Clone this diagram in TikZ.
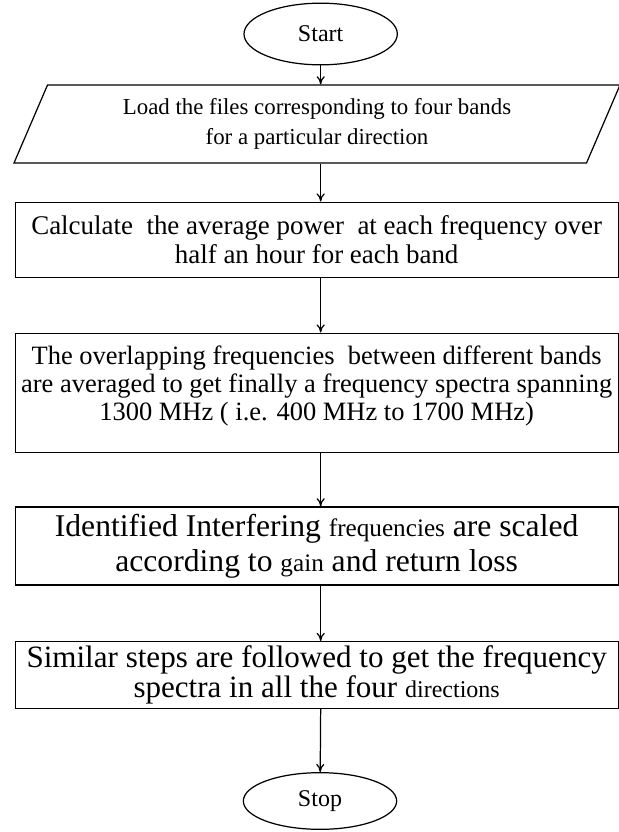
\documentclass[tikz,border=0pt]{standalone}
\usepackage{fontspec}
\setmainfont{Liberation Serif}
\usepackage{tikz}
\usetikzlibrary{shapes.geometric,arrows.meta,positioning}

\tikzset{
	term/.style={draw,ellipse,line width=1.05pt,minimum width=4.6cm,minimum height=1.85cm,inner sep=0pt,font=\fontsize{20.5}{24}\selectfont},
	iobox/.style={draw,line width=1.05pt,trapezium,trapezium left angle=60,trapezium right angle=120,trapezium stretches body,
		minimum width=18.18cm,minimum height=2.34cm,align=center,font=\fontsize{19.5}{25}\selectfont},
	procbox/.style={draw,line width=1.05pt,rectangle,minimum width=18.09cm,inner xsep=0pt,align=center,font=\fontsize{23}{25}\selectfont},
	flow/.style={-{To[length=7pt,width=7pt]},line width=1.05pt}
}

\begin{document}
\begin{tikzpicture}
		\useasboundingbox (0,0) rectangle (18.57,-24.96);
		\node[term] (start) at (9.62,-1.02) {Start};
		\node[iobox] (load) at (9.51,-3.72) {Load the files corresponding to four bands\\for a particular direction};
		\node[procbox,minimum height=2.25cm] (calc) at (9.5,-7.19) {Calculate\ \ the average power\ \ at each frequency over\\half an hour for each band};
		\node[procbox,minimum height=3.57cm,font=\fontsize{22.6}{24}\selectfont] (avg) at (9.5,-11.78) {The overlapping frequencies\ \ between different bands\\are averaged to get finally a frequency spectra spanning\\1300 MHz ( i.e. 400 MHz to 1700 MHz)\\[-8pt]\mbox{}};
		\node[procbox,minimum height=2.34cm,font=\fontsize{27}{30}\selectfont] (scale) at (9.5,-16.38) {Identified Interfering {\fontsize{21.5}{22}\selectfont frequencies} are scaled\\according to {\fontsize{21.5}{22}\selectfont gain} and return loss};
		\node[procbox,minimum height=1.98cm,font=\fontsize{26.5}{26}\selectfont] (steps) at (9.5,-20.25) {Similar steps are followed to get the frequency\\spectra in all the four {\fontsize{20.5}{20}\selectfont directions}};
		\node[term,minimum height=1.7cm] (stop) at (9.6,-24.03) {Stop};
		% arrows
		\draw[flow] (start) -- (start |- load.north);
		\draw[flow] (start |- load.south) -- (start |- calc.north);
		\draw[flow] (start |- calc.south) -- (start |- avg.north);
		\draw[flow] (start |- avg.south) -- (start |- scale.north);
		\draw[flow] (start |- scale.south) -- (start |- steps.north);
		\draw[flow] (start |- steps.south) -- (stop);
	\end{tikzpicture}
\end{document}
